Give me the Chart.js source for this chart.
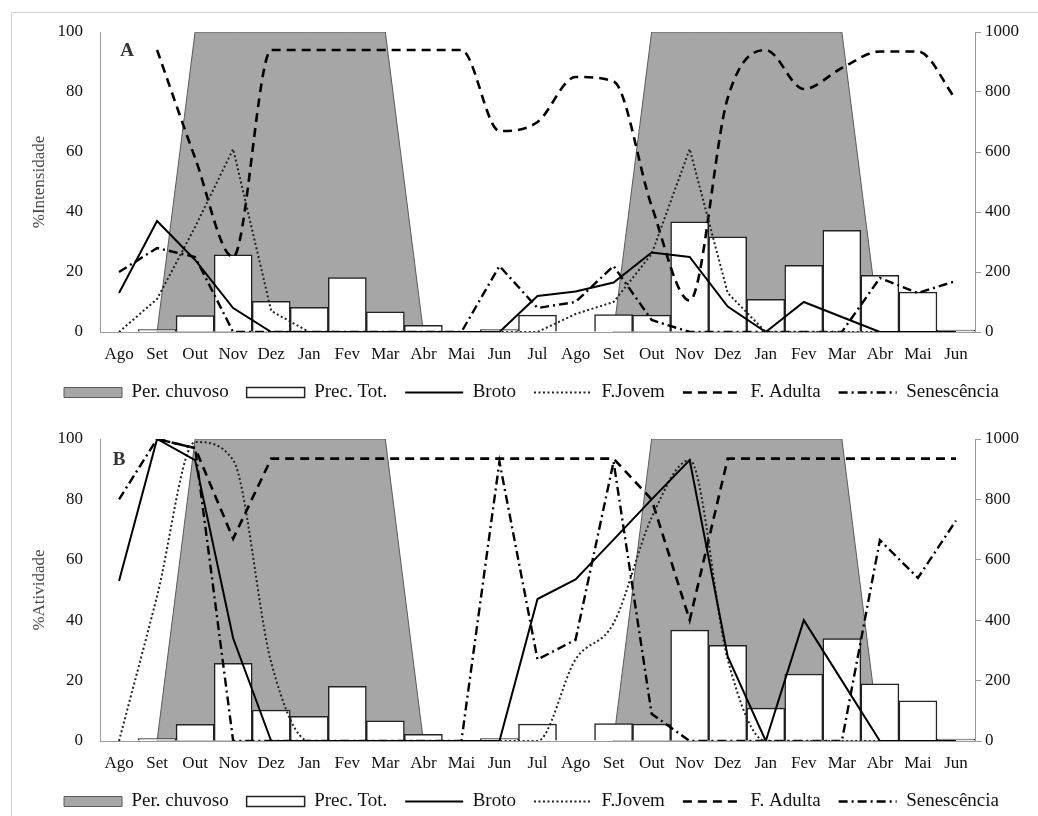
<!DOCTYPE html>
<html lang="pt">
<head>
<meta charset="utf-8">
<title>Fenologia foliar</title>
<script src="https://cdn.jsdelivr.net/npm/chart.js@4.4.1/dist/chart.umd.min.js"></script>
<style>
  html, body { margin: 0; padding: 0; background: #fff; overflow: hidden; }
  #moldura { position: absolute; left: 11px; top: 12px; width: 1100px; height: 900px; border: 1px solid #cfcfcf; }
  canvas { position: absolute; left: 0; }
  #graficoA { top: 0; }
  #graficoB { top: 407px; }
</style>
</head>
<body>
<div id="moldura"></div>
<canvas id="graficoA" width="1038" height="412"></canvas>
<canvas id="graficoB" width="1038" height="414"></canvas>
<script>
// Meses (ago/ano 1 a jun/ano 3)
const meses = ['Ago','Set','Out','Nov','Dez','Jan','Fev','Mar','Abr','Mai','Jun','Jul',
               'Ago','Set','Out','Nov','Dez','Jan','Fev','Mar','Abr','Mai','Jun'];

// Periodo chuvoso (%) e precipitacao total (mm)
const perChuvoso = [null, 0, 100, 100, 100, 100, 100, 100, 0, null, null, null,
                    null, 0, 100, 100, 100, 100, 100, 100, 0, null, null];
const precTot = [0, 8, 55, 257, 102, 82, 181, 67, 22, 0, 8, 56,
                 0, 58, 56, 367, 317, 109, 222, 339, 189, 133, 6];

// Painel A - %Intensidade
const brotoA  = [13, 37, 24, 8, 0, 0, 0, 0, 0, 0, 0, 12, 13.5, 16.5, 26.5, 25, 8.5, 0, 10, 5, 0, 0, 0];
const jovemA  = [0, 11, 35, 61, 7, 0, 0, 0, 0, 0, 0, 0, 6, 10, 26, 61, 13, 0, 0, 0, 0, 0, 0];
const adultaA = [null, 94, 58, 25, 94, 94, 94, 94, 94, 94, 67, 70, 85, 83.5, 42, 10.5, 78, 94, 81, 88, 93.5, 93.5, 77.5];
const senesA  = [20, 28, 25, 0, 0, 0, 0, 0, 0, 0, 22, 8, 10, 22, 4, 0, 0, 0, 0, 0, 18, 13, 17];

// Painel B - %Atividade
const brotoB  = [53, 100, 93, 34, 0, 0, 0, 0, 0, 0, 0, 47, 53.5, 66.7, 80, 93, 28, 0, 40, 20, 0, 0, 0];
const jovemB  = [0, 48, 99, 93, 26, 0, 0, 0, 0, 0, 0, 0, 27, 39, 74, 93, 27, 0, 0, 0, 0, 0, 0];
const adultaB = [null, 100, 97, 67, 93.5, 93.5, 93.5, 93.5, 93.5, 93.5, 93.5, 93.5, 93.5, 93.5, 80, 40, 93.5, 93.5, 93.5, 93.5, 93.5, 93.5, 93.5];
const senesB  = [80, 100, 97, 0, 0, 0, 0, 0, 0, 0, 92.5, 27, 33.5, 92.5, 9, 0, 0, 0, 0, 0, 66.5, 54, 73];

const ticksY = [0, 20, 40, 60, 80, 100];
const ticksY1 = [0, 200, 400, 600, 800, 1000];

document.addEventListener("DOMContentLoaded", () => {
const fonte = "'Liberation Serif', 'Times New Roman', serif";
Chart.defaults.font.family = fonte;
Chart.defaults.color = '#111';

// letra do painel (A / B) dentro da area do grafico
const rotuloPainel = {
    id: 'rotuloPainel',
    afterDraw(chart, args, opts) {
        const {ctx, chartArea} = chart;
        ctx.save();
        ctx.font = 'bold 19px ' + fonte;
        ctx.fillStyle = '#333';
        ctx.textAlign = 'center';
        ctx.textBaseline = 'middle';
        ctx.fillText(opts.texto, chartArea.left + opts.dx, chartArea.top + opts.dy);
        ctx.restore();
    }
};

function renderizarPainel(id, letra, dx, dy, tituloY, broto, jovem, adulta, senes, curvaAdulta, curvaJovem) {
    const ctx = document.getElementById(id).getContext('2d');
    return new Chart(ctx, {
        type: 'bar',
        data: {
            labels: meses,
            datasets: [
                {
                    type: 'line', label: 'Per. chuvoso', data: perChuvoso, yAxisID: 'y',
                    backgroundColor: '#a6a6a6', borderColor: '#5a5a5a', borderWidth: 1,
                    fill: 'origin', pointRadius: 0, tension: 0, pointStyle: 'rect', order: 5
                },
                {
                    type: 'bar', label: 'Prec. Tot.', data: precTot, yAxisID: 'y1',
                    backgroundColor: '#ffffff', borderColor: '#222', borderWidth: 1.5,
                    categoryPercentage: 1, barPercentage: 1, pointStyle: 'rect', order: 4
                },
                {
                    type: 'line', label: 'Broto', data: broto, yAxisID: 'y',
                    borderColor: '#000', borderWidth: 2, pointRadius: 0, fill: false,
                    tension: 0, pointStyle: 'line', order: 0
                },
                {
                    type: 'line', label: 'F.Jovem', data: jovem, yAxisID: 'y',
                    borderColor: '#222', borderWidth: 2, borderDash: [2, 2.5], pointRadius: 0, fill: false,
                    tension: curvaJovem ? 0.4 : 0, cubicInterpolationMode: curvaJovem ? 'monotone' : 'default',
                    pointStyle: 'line', order: 1
                },
                {
                    type: 'line', label: 'F. Adulta', data: adulta, yAxisID: 'y',
                    borderColor: '#000', borderWidth: 2.6, borderDash: [9, 6], pointRadius: 0, fill: false,
                    tension: curvaAdulta ? 0.4 : 0, cubicInterpolationMode: curvaAdulta ? 'monotone' : 'default',
                    pointStyle: 'line', order: 2
                },
                {
                    type: 'line', label: 'Senescência', data: senes, yAxisID: 'y',
                    borderColor: '#000', borderWidth: 2.4, borderDash: [9, 4, 2, 4], pointRadius: 0, fill: false,
                    tension: 0, pointStyle: 'line', order: 3
                }
            ]
        },
        options: {
            responsive: false,
            animation: false,
            events: [],
            layout: { padding: { left: 25, right: 0, top: 32, bottom: 0 } },
            plugins: {
                tooltip: { enabled: false },
                rotuloPainel: { texto: letra, dx: dx, dy: dy },
                legend: {
                    position: 'bottom',
                    labels: {
                        usePointStyle: true,
                        pointStyleWidth: 58,
                        boxHeight: 10,
                        padding: 18,
                        color: '#111',
                        font: { size: 19, family: fonte },
                        // mantem a ordem original das series na legenda
                        generateLabels: (chart) => chart.data.datasets.map((ds, i) => ({
                            text: ds.label,
                            datasetIndex: i,
                            hidden: false,
                            fillStyle: ds.backgroundColor || 'rgba(0,0,0,0)',
                            strokeStyle: ds.borderColor,
                            lineWidth: ds.borderWidth,
                            lineDash: ds.borderDash || [],
                            pointStyle: ds.pointStyle,
                            fontColor: '#111'
                        }))
                    }
                }
            },
            scales: {
                x: {
                    offset: true,
                    grid: { display: false, drawTicks: false },
                    border: { display: true, color: '#9a9a9a', width: 1 },
                    ticks: { color: '#111', font: { size: 17 }, padding: 12, maxRotation: 0, autoSkip: false },
                    afterFit: (s) => { s.height = 33; }
                },
                y: {
                    position: 'left',
                    min: 0, max: 100,
                    afterBuildTicks: (s) => { s.ticks = ticksY.map(v => ({ value: v })); },
                    grid: { display: false, drawTicks: false },
                    border: { display: true, color: '#9a9a9a', width: 1 },
                    ticks: { color: '#111', font: { size: 17 }, padding: 17 },
                    title: { display: true, text: tituloY, color: '#4a4a4a', font: { size: 17 } },
                    afterFit: (s) => { s.width = 75; }
                },
                y1: {
                    position: 'right',
                    min: 0, max: 1000,
                    afterBuildTicks: (s) => { s.ticks = ticksY1.map(v => ({ value: v })); },
                    grid: { display: true, drawOnChartArea: false, drawTicks: true, tickLength: 6, color: '#9a9a9a' },
                    border: { display: true, color: '#9a9a9a', width: 1 },
                    ticks: { color: '#111', font: { size: 17 }, padding: 4, callback: (v) => String(v) },
                    afterFit: (s) => { s.width = 63; }
                }
            }
        },
        plugins: [rotuloPainel]
    });
}

renderizarPainel('graficoA', 'A', 27, 19, '%Intensidade', brotoA, jovemA, adultaA, senesA, true, false);
renderizarPainel('graficoB', 'B', 19, 21, '%Atividade', brotoB, jovemB, adultaB, senesB, false, true);
});
</script>
</body>
</html>
